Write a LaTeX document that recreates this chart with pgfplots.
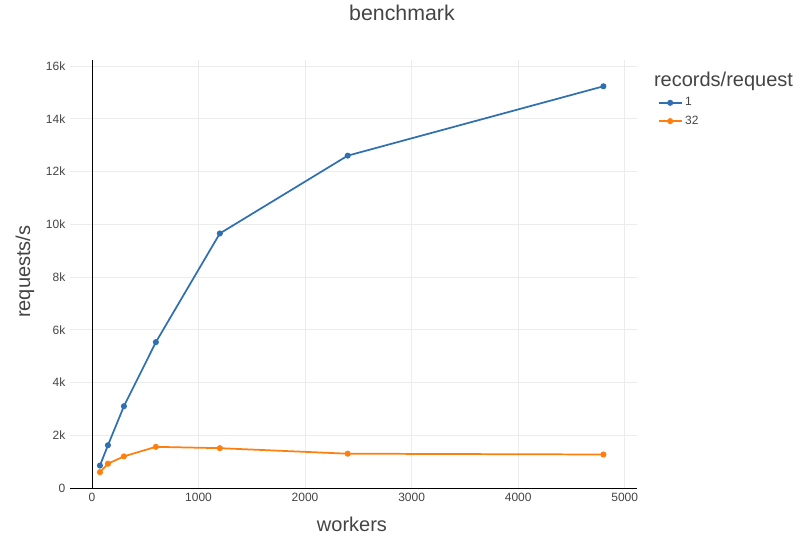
\documentclass[border=0pt]{standalone}
\usepackage{pgfplots}
\pgfplotsset{compat=1.18}
\usepackage{fontspec}
\setmainfont{Liberation Sans}
\definecolor{pblue}{HTML}{3070B0}
\definecolor{porange}{HTML}{FF7F0E}
\definecolor{tgray}{HTML}{444444}
\begin{document}
\begin{tikzpicture}[x=1pt,y=1pt]
\path (0,0) rectangle (606,405.75);
\begin{axis}[at={(52.5pt,39.75pt)},anchor=south west,scale only axis,
 width=425pt,height=321pt,
 xmin=-206,xmax=5112,ymin=0,ymax=16227,
 axis x line*=bottom, axis y line*=left,
 y axis line style={draw=none},
 xtick={0,1000,2000,3000,4000,5000},
 ytick={0,2000,4000,6000,8000,10000,12000,14000,16000},
 yticklabels={0,2k,4k,6k,8k,10k,12k,14k,16k},
 scaled ticks=false,
 grid=major, grid style={draw=gray!15},
 tick label style={font=\fontsize{9}{10}\selectfont,text=tgray},
 /pgf/number format/assume math mode=true,
 /pgf/number format/1000 sep={},
 tick style={draw=none},
 clip=false,
 legend style={at={(1.03,0.925)},anchor=north west,draw=none,fill=none,font=\fontsize{9}{10}\selectfont,text=tgray,row sep=2pt},
 legend cell align=left,
]
\draw[black] (axis cs:0,0) -- (axis cs:0,16227);
\addplot[pblue,line width=1.3pt,mark=*,mark size=1.6pt] coordinates {(75,850)(150,1620)(300,3100)(600,5530)(1200,9650)(2400,12600)(4800,15230)};
\addlegendentry{1}
\addplot[porange,line width=1.3pt,mark=*,mark size=1.6pt] coordinates {(75,600)(150,920)(300,1200)(600,1560)(1200,1510)(2400,1300)(4800,1270)};
\addlegendentry{32}
\end{axis}
\node[text=tgray,font=\fontsize{16}{18}\selectfont] at (301.5,396) {benchmark};
\node[text=tgray,font=\fontsize{15}{17}\selectfont,anchor=west] at (487,344.5) {records/request};
\node[text=tgray,font=\fontsize{15}{17}\selectfont] at (264,12.5) {workers};
\node[text=tgray,font=\fontsize{15}{17}\selectfont,rotate=90] at (18.75,202) {requests/s};
\end{tikzpicture}
\end{document}
